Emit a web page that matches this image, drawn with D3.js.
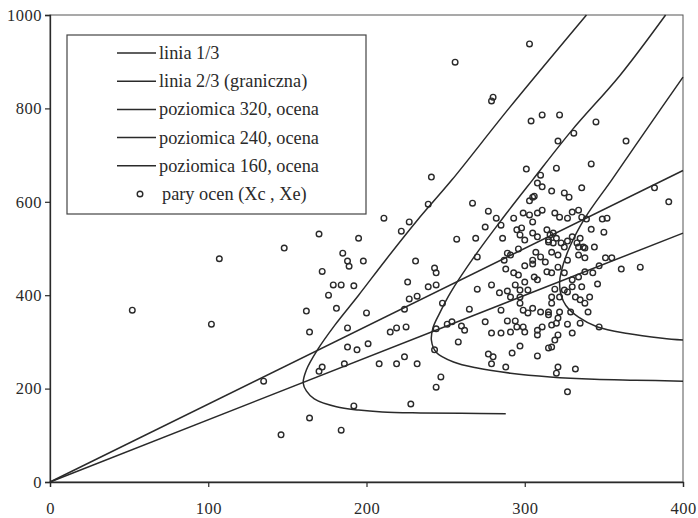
<!DOCTYPE html>
<html>
<head>
<meta charset="utf-8">
<script src="https://cdn.jsdelivr.net/npm/d3@7"></script>
<style>
  body { margin: 0; background: #fff; }
  svg text { font-family: "Liberation Serif", "DejaVu Serif", "Times New Roman", serif; fill: #2a2a2a; }
</style>
</head>
<body>
<div id="graph"></div>
<script>
// tick labels
const xTicks = [0, 100, 200, 300, 400];
const yTicks = [0, 200, 400, 600, 800, 1000];

// legend labels
const legendLabels = ["linia 1/3", "linia 2/3 (graniczna)", "poziomica 320, ocena",
                      "poziomica 240, ocena", "poziomica 160, ocena", "pary ocen (Xc , Xe)"];

// straight lines from origin
const linia13 = [[0, 0], [400, 533]];
const linia23 = [[0, 0], [400, 667]];

// level curves (Xc, Xe)
const poz320 = [[400, 867], [378, 760], [355, 647], [338, 565], [328, 500], [323, 450], [322, 425],
                [323, 400], [326, 378], [334, 353], [346, 332], [365, 318], [387, 308], [400, 304]];
const poz240 = [[389, 1000], [360, 870], [330, 754], [305, 647], [285, 560], [268, 482], [253, 405],
                [246, 360], [242, 330], [241, 304], [244, 278], [255, 257], [270, 244], [291, 233],
                [316, 225], [344, 220], [370, 218], [400, 216]];
const poz160 = [[339, 1000], [290, 800], [254, 647], [232, 560], [212, 475], [195, 400], [180, 336],
                [169, 283], [162, 240], [160, 212], [162, 195], [167, 178], [181, 161], [195, 154],
                [210, 150], [234, 148], [260, 147], [288, 146]];

// pairs of grades (Xc, Xe)
const pary = [
  [52,368],[102,338],[107,478],[135,216],[146,101],[148,501],[170,531],[211,565],[222,537],[227,557],
  [195,522],[185,490],[188,473],[189,462],[198,473],[172,451],[179,422],[184,422],[192,420],[176,400],
  [181,372],[162,366],[200,362],[231,473],[226,428],[232,398],[227,392],[224,370],[219,330],[225,332],
  [188,330],[164,321],[188,289],[194,283],[201,296],[215,321],[172,246],[170,237],[186,253],[208,253],
  [219,253],[224,268],[232,253],[192,163],[228,167],[164,137],[184,111],[241,653],[239,595],
  [303,938],[256,899],[280,824],[279,816],[304,773],[311,786],[322,786],[345,771],[331,747],[321,730],
  [364,730],[342,681],[301,670],[320,672],[310,657],[308,640],[311,632],[317,623],[325,619],[328,610],
  [336,630],[305,610],[306,612],[303,602],[382,630],[391,600],
  [267,597],[277,580],[282,565],[275,546],[285,550],[269,522],[257,520],[286,522],[293,565],[299,576],
  [303,572],[305,557],[308,576],[311,582],[319,576],[322,567],[327,565],[330,578],[334,582],[336,567],
  [339,563],[342,541],[349,563],[352,565],[350,535],[344,503],[295,540],[298,544],[297,529],[305,533],
  [308,525],[314,540],[318,533],[315,518],[320,522],[323,512],[327,516],[330,525],[333,512],[335,522],
  [337,503],[300,518],
  [243,458],[244,448],[270,482],[239,418],[244,422],[270,413],[279,422],[289,490],[291,486],[287,475],
  [296,499],[288,456],[293,448],[296,443],[300,463],[305,467],[300,428],[306,439],[307,492],[305,475],
  [310,482],[313,471],[314,450],[294,422],[297,411],[302,411],[308,433],[289,409],[284,405],
  [361,456],[373,460],[351,480],[355,480],[347,463],[343,448],[346,424],[338,450],[334,439],[336,418],
  [330,433],[325,448],[321,460],[317,448],[319,413],[325,411],[330,418],[334,503],[338,501],[334,486],
  [338,480],[327,475],[321,486],[317,492],[316,529],[315,514],[318,512],[325,503],
  [248,383],[265,370],[254,343],[251,338],[260,334],[262,325],[244,328],[243,283],[258,300],[247,225],
  [244,203],[275,343],[279,319],[285,319],[285,368],[289,345],[291,321],[294,345],[295,332],[299,332],
  [300,321],[277,274],[280,268],[279,253],[288,246],[292,276],[297,291],[308,270],[308,325],[311,332],
  [308,315],[297,383],[299,368],[302,362],[305,372],[310,364],[315,364],[291,396],[297,396],[315,287],
  [317,396],[317,383],[322,396],[327,407],[332,396],[335,390],[338,383],[341,396],[340,364],[329,364],
  [315,358],[322,364],[321,351],[317,336],[320,340],[327,338],[335,340],[330,319],[347,332],[321,315],
  [319,304],[317,289],[321,246],[320,233],[332,242],[327,193]
];

const width = 698;
const height = 518;
const plotLeft = 50, plotRight = 683, plotTop = 15, plotBottom = 482;
const ink = "#2a2a2a";
const serif = '"Liberation Serif", "DejaVu Serif", "Times New Roman", serif';

const svg = d3.select("#graph")
              .append("svg")
              .attr("width", width)
              .attr("height", height);

const xScale = d3.scaleLinear().domain([0, 400]).range([plotLeft, plotRight]);
const yScale = d3.scaleLinear().domain([0, 1000]).range([plotBottom, plotTop]);

// frame
svg.append("rect")
   .attr("x", plotLeft).attr("y", plotTop)
   .attr("width", plotRight - plotLeft).attr("height", plotBottom - plotTop)
   .attr("fill", "none")
   .attr("stroke", "#555")
   .attr("stroke-width", 1);

const xAxis = d3.axisBottom(xScale).tickValues(xTicks).tickFormat(d3.format("d"))
                .tickSize(5).tickPadding(15);
const yAxis = d3.axisLeft(yScale).tickValues(yTicks).tickFormat(d3.format("d"))
                .tickSize(5).tickPadding(3);

const gx = svg.append("g")
   .attr("transform", `translate(0, ${plotBottom})`)
   .call(xAxis);
const gy = svg.append("g")
   .attr("transform", `translate(${plotLeft}, 0)`)
   .call(yAxis);

[gx, gy].forEach(g => {
  g.attr("font-family", serif).attr("font-size", 16);
  g.select(".domain").attr("stroke", ink).attr("stroke-width", 1.3);
  g.selectAll(".tick line").attr("stroke", ink).attr("stroke-width", 1.2);
  g.selectAll(".tick text")
   .style("font-family", serif)
   .style("font-size", "16.5px")
   .style("letter-spacing", "0.5px")
   .attr("fill", "#2a2a2a");
});

const line = d3.line()
               .x(d => xScale(d[0]))
               .y(d => yScale(d[1]));
const curve = d3.line()
                .x(d => xScale(d[0]))
                .y(d => yScale(d[1]))
                .curve(d3.curveCatmullRom.alpha(0.5));

const marks = svg.append("g");
[line(linia13), line(linia23), curve(poz320), curve(poz240), curve(poz160)].forEach(d => {
  marks.append("path")
       .attr("d", d)
       .attr("fill", "none")
       .attr("stroke", ink)
       .attr("stroke-width", 1.5);
});

svg.selectAll("circle.dot")
   .data(pary)
   .enter()
   .append("circle")
   .attr("class", "dot")
   .attr("cx", d => xScale(d[0]))
   .attr("cy", d => yScale(d[1]))
   .attr("r", 2.8)
   .attr("fill", "none")
   .attr("stroke", ink)
   .attr("stroke-width", 1.4);

// legend
const legend = svg.append("g");
legend.append("rect")
      .attr("x", 67).attr("y", 35)
      .attr("width", 299).attr("height", 179)
      .attr("fill", "#fff")
      .attr("stroke", "#444")
      .attr("stroke-width", 1.2);

legendLabels.forEach((label, i) => {
  const y = 53 + i * 28.2;
  if (i < 5) {
    legend.append("line")
          .attr("x1", 117).attr("x2", 156)
          .attr("y1", y).attr("y2", y)
          .attr("stroke", ink)
          .attr("stroke-width", 1.5);
  } else {
    legend.append("circle")
          .attr("cx", 140).attr("cy", y)
          .attr("r", 2.8)
          .attr("fill", "none")
          .attr("stroke", ink)
          .attr("stroke-width", 1.4);
  }
  legend.append("text")
        .attr("x", i < 5 ? 159 : 162)
        .attr("y", y + 6)
        .style("font-family", serif)
        .style("font-size", "18.3px")
        .text(label);
});
</script>
</body>
</html>
